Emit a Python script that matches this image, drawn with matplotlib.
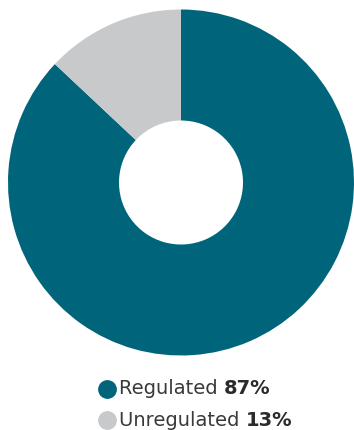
import matplotlib.pyplot as plt
from matplotlib.lines import Line2D

labels = ['Regulated', 'Unregulated']
shares = [87, 13]
colors = ['#00657a', '#c8c9cb']

W, H = 354, 430
fig = plt.figure(figsize=(W / 100, H / 100), dpi=100)
plt.rcParams['font.family'] = ['DejaVu Sans']

# donut
ax = fig.add_axes([8 / W, 74 / H, 346 / W, 347 / H])
ax.pie(shares, colors=colors, startangle=90, counterclock=False, radius=1,
       wedgeprops=dict(width=1 - 62 / 173, linewidth=0))
ax.set_xlim(-1, 1)
ax.set_ylim(-1, 1)
ax.set_aspect('equal')
ax.axis('off')

# legend
fig.canvas.draw()
renderer = fig.canvas.get_renderer()
rows_y = [389, 420]
for lab, val, col, y in zip(labels, shares, colors, rows_y):
    yf = 1 - y / H
    fig.add_artist(Line2D([107 / W], [yf], marker='o', markersize=12.5,
                          color=col, transform=fig.transFigure))
    t = fig.text(119 / W, yf, lab + ' ', fontsize=14, color='#3a3a3a',
                 va='center', ha='left')
    bb = t.get_window_extent(renderer)
    fig.text(bb.x1 / W, yf, '%d%%' % val, fontsize=14, fontweight='bold',
             color='#2b2b2b', va='center', ha='left')

fig.savefig('out.png', dpi=100)
